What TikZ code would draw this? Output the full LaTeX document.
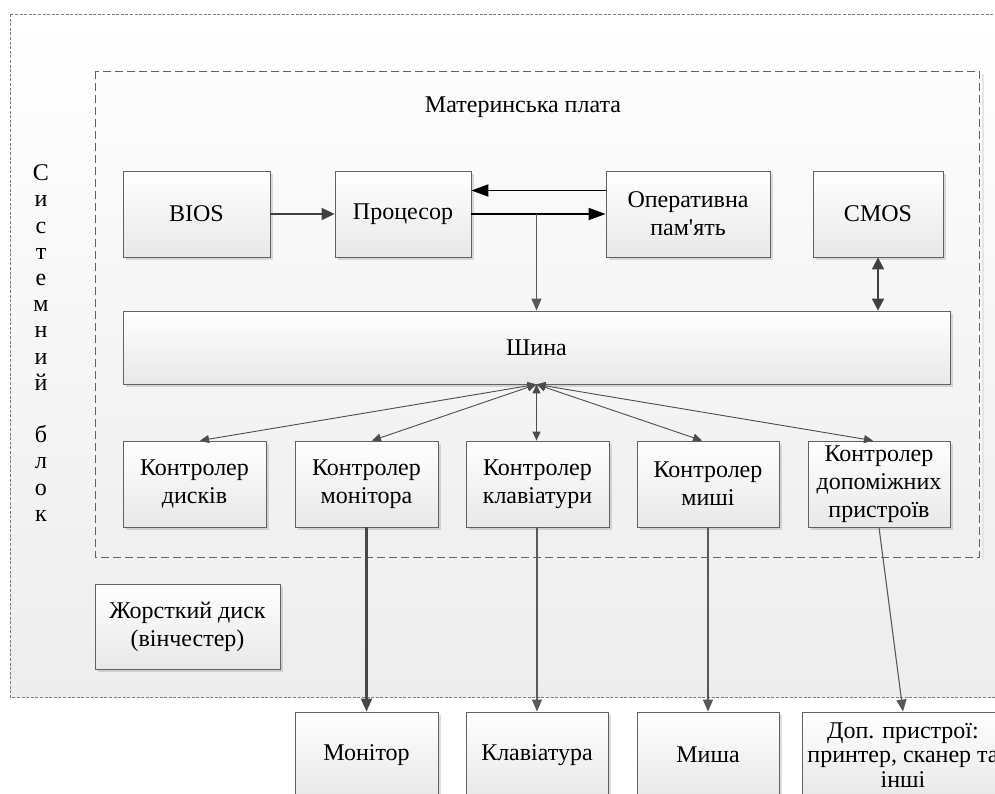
\documentclass[tikz,border=0pt]{standalone}
\usepackage{fontspec}
\newfontfamily\diagfont{Liberation Serif}
\usetikzlibrary{arrows.meta,calc,shadows}

\begin{document}
\begin{tikzpicture}[x=1pt,y=-1pt,
  txt/.style={font=\diagfont\fontsize{24}{28}\selectfont, align=center},
  box/.style={txt, draw=black!62, line width=0.8pt, top color=white, bottom color=black!9,
    inner sep=0pt, drop shadow={shadow xshift=3pt, shadow yshift=-3pt, fill=black, opacity=0.13}},
  region/.style={top color=white, bottom color=black!7},
  heavy/.style={line width=1.8pt, black, -{Triangle[length=17pt,width=12pt]}},
  darkarrow/.style={line width=1.8pt, black!75, -{Triangle[length=13pt,width=12pt]}},
  twoway/.style={line width=1.8pt, black!75, {Triangle[length=12pt,width=12pt]}-{Triangle[length=12pt,width=12pt]}},
  grayarrow/.style={line width=1.1pt, black!65, -{Triangle[length=12pt,width=10pt]}},
  fan/.style={line width=0.9pt, black!70, {Triangle[length=9pt,width=8pt]}-{Triangle[length=9pt,width=8pt]}},
  thickdown/.style={line width=2.2pt, black!72, -{Triangle[length=13pt,width=11pt]}},
]
\useasboundingbox (0,0) rectangle (995,794);
\clip (0,0) rectangle (995,794);

% system unit and motherboard regions
\fill[region] (10,14) rectangle (1010,697);
\draw[black!50, line width=0.8pt, dash pattern=on 3pt off 1.6pt] (10,14) rectangle (1010,697);
\fill[black!10] (982,74) rectangle (984,560);
\fill[region, top color=black!1, bottom color=black!6] (95,71) rectangle (979,557);
\draw[black!62, line width=0.9pt, dash pattern=on 8pt off 4pt] (95,71) rectangle (979,557);

\node[txt] (mbtitle) at (523,107) {Материнська плата};
\node[txt, font=\diagfont\fontsize{24}{26.2}\selectfont] (sysunit) at (41,343)
  {С\\и\\с\\т\\е\\м\\н\\и\\й\\[26.2pt]б\\л\\о\\к};

% motherboard components
\node[box, minimum width=147pt, minimum height=86pt] (bios) at (196.5,214) {BIOS};
\node[box, minimum width=136pt, minimum height=86pt] (cpu)  at (403,214) {Процесор};
\node[box, minimum width=164pt, minimum height=86pt] (ram)  at (688,214) {Оперативна\\пам'ять};
\node[box, minimum width=130pt, minimum height=86pt] (cmos) at (878,214) {CMOS};
\node[box, minimum width=827pt, minimum height=73pt] (bus)  at (536.5,347.5) {Шина};

\node[box, minimum width=143pt, minimum height=86pt] (cdisk)  at (194.5,484) {Контролер\\дисків};
\node[box, minimum width=143pt, minimum height=86pt] (cmon)   at (366.5,484) {Контролер\\монітора};
\node[box, minimum width=143pt, minimum height=86pt] (ckbd)   at (537.5,484) {Контролер\\клавіатури};
\node[box, minimum width=142pt, minimum height=86pt] (cmouse) at (708,484) {Контролер\\миші};
\node[box, minimum width=142pt, minimum height=86pt] (caux)   at (879,484) {Контролер\\допоміжних\\пристроїв};

% drive inside the system unit
\node[box, minimum width=185pt, minimum height=85pt] (hdd) at (187.5,626.5) {Жорсткий диск\\(вінчестер)};

% external devices
\node[box, minimum width=143pt, minimum height=86pt] (mon)   at (366.5,755) {Монітор};
\node[box, minimum width=142pt, minimum height=86pt] (kbd)   at (537,755) {Клавіатура};
\node[box, minimum width=142pt, minimum height=86pt] (mouse) at (708,755) {Миша};
\node[box, minimum width=202pt, minimum height=86pt, font=\diagfont\fontsize{24}{24.5}\selectfont] (aux) at (903,755)
  {Доп. пристрої:\\принтер, сканер та\\інші};

% processor links
\draw[darkarrow] (bios.east) -- (cpu.west);
\draw[heavy] ([yshift=23.5pt]ram.west) -- ([yshift=23.5pt]cpu.east);
\draw[heavy] (cpu.east) -- (ram.west);
\coordinate (tap) at (bus.north |- cpu.east);
\draw[grayarrow] (tap) -- (bus.north);
\draw[twoway] (cmos.south) -- (cmos.south |- bus.north);

% bus to controllers
\coordinate (hub) at (bus.south);
\draw[fan] (hub) -- ([xshift=5.5pt]cdisk.north);
\draw[fan] (hub) -- ([xshift=5.5pt]cmon.north);
\draw[fan] (hub) -- (hub |- ckbd.north);
\draw[fan] (hub) -- ([xshift=-6pt]cmouse.north);
\draw[fan] (hub) -- ([xshift=-6pt]caux.north);

% controllers to devices
\draw[thickdown] (cmon.south) -- (mon.north);
\draw[grayarrow] (ckbd.south -| kbd.north) -- (kbd.north);
\draw[grayarrow] (cmouse.south) -- (mouse.north);
\draw[grayarrow] (caux.south) -- (aux.north);
\end{tikzpicture}
\end{document}
